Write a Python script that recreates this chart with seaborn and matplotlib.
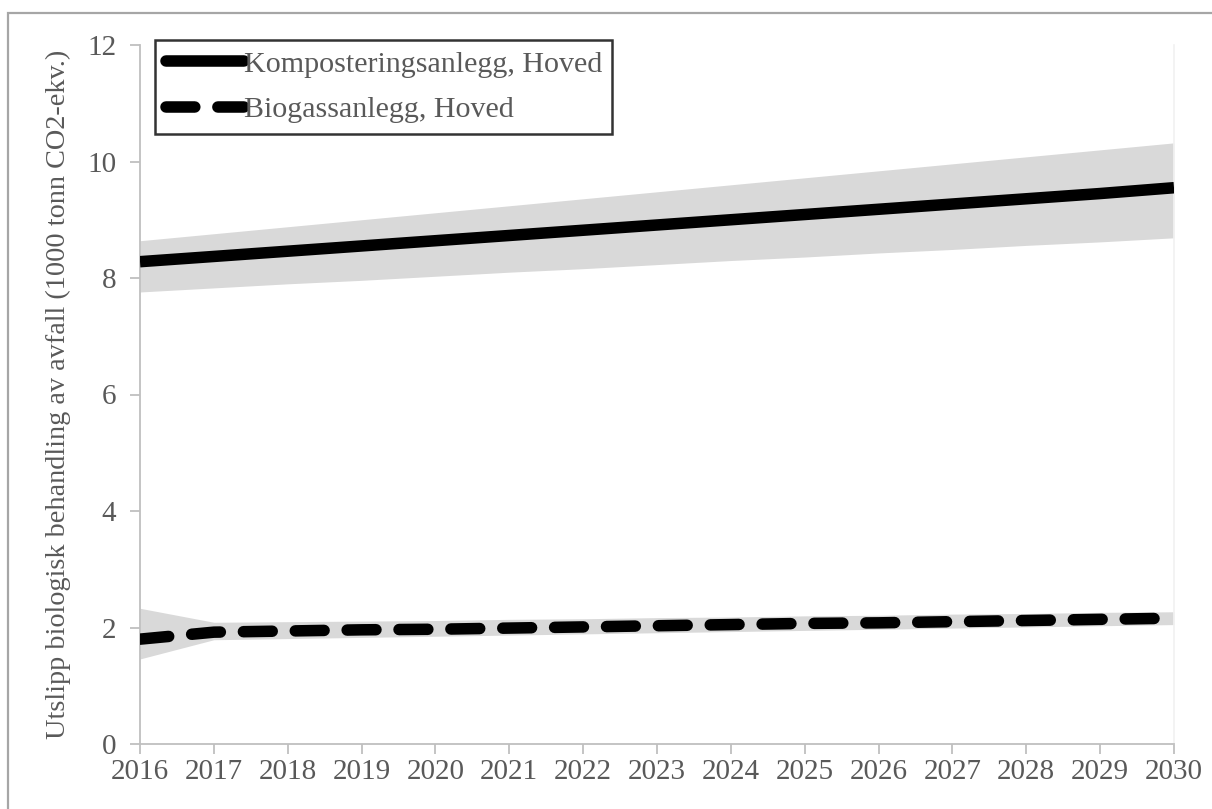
import matplotlib.pyplot as plt
import matplotlib.patches as patches
import pandas as pd
import seaborn as sns

years = list(range(2016, 2031))

# Komposteringsanlegg, Hoved (1000 tonn CO2-ekv.)
kompost = [8.28, 8.37, 8.46, 8.55, 8.64, 8.73, 8.82, 8.91, 9.00, 9.09, 9.18, 9.27, 9.36, 9.45, 9.55]
kompost_hoy = [8.64, 8.76, 8.88, 9.00, 9.12, 9.24, 9.36, 9.48, 9.60, 9.72, 9.84, 9.96, 10.08, 10.20, 10.32]
kompost_lav = [7.76, 7.83, 7.90, 7.96, 8.03, 8.10, 8.16, 8.23, 8.30, 8.36, 8.43, 8.49, 8.56, 8.62, 8.69]

# Biogassanlegg, Hoved
biogass = [1.80, 1.92, 1.94, 1.96, 1.97, 1.99, 2.01, 2.03, 2.05, 2.07, 2.08, 2.10, 2.12, 2.14, 2.16]
biogass_hoy = [2.33, 2.09, 2.10, 2.11, 2.12, 2.14, 2.15, 2.17, 2.18, 2.20, 2.21, 2.23, 2.24, 2.26, 2.27]
biogass_lav = [1.46, 1.79, 1.81, 1.83, 1.85, 1.87, 1.89, 1.91, 1.93, 1.95, 1.97, 1.99, 2.01, 2.03, 2.05]

sns.set_theme(style='white')
plt.rcParams['font.family'] = ['Liberation Serif', 'DejaVu Serif']

df = pd.DataFrame({
    'År': years * 2,
    'Utslipp': kompost + biogass,
    'Serie': ['Komposteringsanlegg, Hoved'] * len(years) + ['Biogassanlegg, Hoved'] * len(years),
})

fig = plt.figure(figsize=(12.12, 8.09), dpi=100)
ax = fig.add_axes([140 / 1212, 1 - 744 / 809, (1174 - 140) / 1212, (744 - 45) / 809])

grey_text = '#595959'
band = '#d9d9d9'

ax.fill_between(years, kompost_lav, kompost_hoy, color=band, lw=0, zorder=1)
ax.fill_between(years, biogass_lav, biogass_hoy, color=band, lw=0, zorder=1)

sns.lineplot(data=df, x='År', y='Utslipp', hue='Serie', style='Serie',
             palette=['black', 'black'], dashes=[(1, 0), (2.5, 2.0)],
             linewidth=8.3, ax=ax, zorder=3)
ax.lines[0].set_linestyle('-')
ax.lines[0].set_solid_capstyle('butt')
ax.lines[1].set_dash_capstyle('round')

ax.set_xlim(2016, 2030)
ax.set_ylim(0, 12)
ax.set_xticks(years)
ax.set_yticks(range(0, 13, 2))
ax.set_xlabel('')
ax.set_ylabel('Utslipp biologisk behandling av avfall (1000 tonn CO2-ekv.)',
              fontsize=20.3, color=grey_text, labelpad=12)

ax.spines['top'].set_visible(False)
ax.spines['right'].set_color('#f2f2f2')
for side in ['left', 'bottom']:
    ax.spines[side].set_color('#bfbfbf')
    ax.spines[side].set_linewidth(1.3)

ax.tick_params(axis='x', direction='out', length=7, width=1.3, color='#bfbfbf',
               labelsize=21, labelcolor=grey_text, pad=4, bottom=True)
ax.tick_params(axis='y', direction='out', length=7, width=1.3, color='#bfbfbf',
               labelsize=21, labelcolor=grey_text, pad=10, left=True)

leg = ax.legend(loc='upper left', bbox_to_anchor=(15 / 1034, 1.007), fontsize=21.6,
                frameon=True, fancybox=False, edgecolor='black', handlelength=2.6,
                handletextpad=0.0, labelspacing=0.62, borderpad=0.35, borderaxespad=0)
leg.get_frame().set_linewidth(1.8)
for txt in leg.get_texts():
    txt.set_color(grey_text)
handles = leg.get_lines()
handles[0].set_linestyle('-')
for h in handles:
    h.set_linewidth(8.3)
    h.set_dash_capstyle('round')
    h.set_solid_capstyle('round')

# ramme rundt hele figuren
fig.patches.append(patches.Rectangle((8 / 1212, -0.1), 1.2, 1.1 - 13 / 809,
                                     transform=fig.transFigure, fill=False,
                                     edgecolor='#a6a6a6', linewidth=1.6))

fig.savefig('out.png', dpi=100)
